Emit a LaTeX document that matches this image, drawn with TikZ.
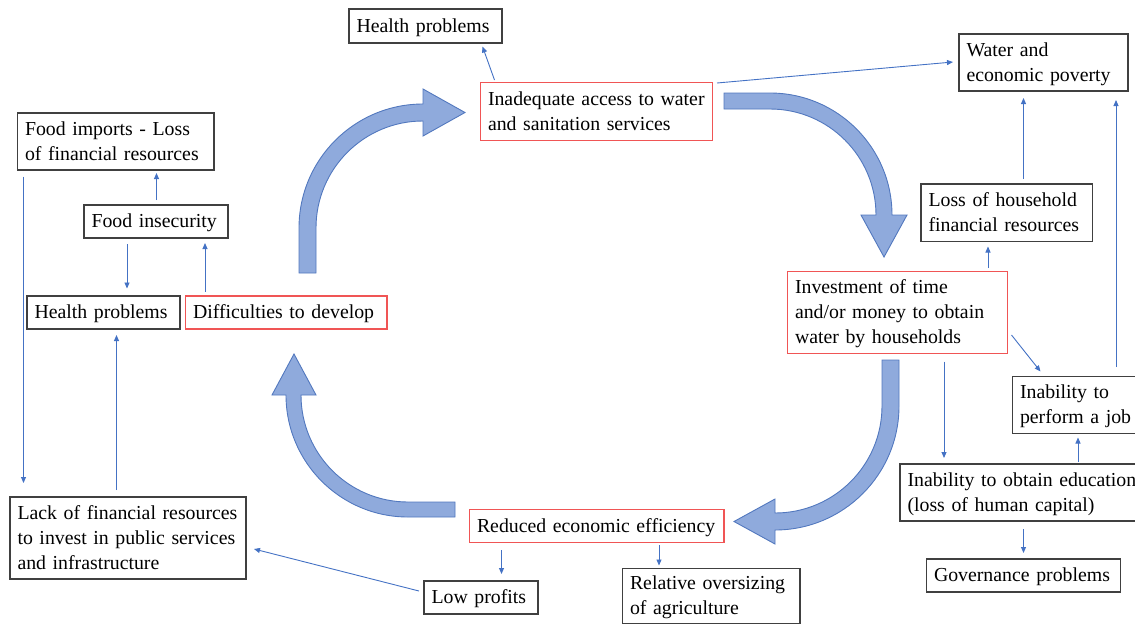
\documentclass[tikz,border=0pt]{standalone}
\usepackage{fontspec}
\setmainfont{Liberation Serif}
\usetikzlibrary{arrows.meta,calc}
\definecolor{boxgray}{RGB}{64,64,64}
\definecolor{boxred}{RGB}{240,85,85}
\definecolor{conn}{RGB}{68,114,196}
\definecolor{bigfill}{RGB}{143,170,220}
\definecolor{bigdraw}{RGB}{82,120,190}
\newcommand\topstrut{\leavevmode\vrule width 0pt height 18pt depth 0pt\relax}
\newcommand\botstrut{\vrule width 0pt height 0pt depth 5.4pt\relax}
\begin{document}
\hyphenpenalty=10000
\exhyphenpenalty=10000
\begin{tikzpicture}[x=1pt,y=-1pt,
 every node/.style={font=\fontsize{19.8}{25}\selectfont},
 box/.style={draw=boxgray,line width=1.2pt,inner xsep=7.5pt,inner ysep=0pt,outer sep=0pt,align=left,
   execute at begin node=\topstrut, execute at end node=\botstrut},
 redbox/.style={box,draw=boxred},
 link/.style={draw=conn,line width=0.9pt,-{Triangle[length=6pt,width=5pt]}},
 bigarrow/.style={fill=bigfill,draw=bigdraw,line width=0.9pt,line join=miter}]
\useasboundingbox (0,0) rectangle (1135,625);

% big cycle arrows
\draw[bigarrow] (299,273) -- (299,228) arc[start angle=180,end angle=270,radius=124]
  -- (423,89) -- (465,112.5) -- (423,136) -- (423,121)
  arc[start angle=270,end angle=180,radius=107] -- (316,273) -- cycle;
\draw[bigarrow] (724,93) -- (770,93) arc[start angle=270,end angle=360,radius=122]
  -- (907,215) -- (884,257) -- (861,215) -- (876,215)
  arc[start angle=360,end angle=270,radius=106] -- (724,109) -- cycle;
\draw[bigarrow] (899,360) -- (899,406) arc[start angle=0,end angle=90,radius=124]
  -- (775,544) -- (734,521.5) -- (775,499) -- (775,513)
  arc[start angle=90,end angle=0,radius=107] -- (882,360) -- cycle;
\draw[bigarrow] (455,517) -- (408,517) arc[start angle=90,end angle=180,radius=122]
  -- (272,395) -- (294,354) -- (316,395) -- (301,395)
  arc[start angle=180,end angle=90,radius=107] -- (455,502) -- cycle;

% boxes
\node[box,minimum width=153pt,minimum height=34pt,text width=138pt] (hpt) at (425.5,26) {Health problems};
\node[redbox,minimum width=232pt,minimum height=58pt,text width=217pt] (inad) at (596.5,111.5) {Inadequate access to water\\and sanitation services};
\node[box,minimum width=169pt,minimum height=57pt,text width=154pt] (wep) at (1043.5,62.5) {Water and\\economic poverty};
\node[box,minimum width=196.5pt,minimum height=57pt,text width=181.5pt] (fim) at (115.75,141.5) {Food imports - Loss\\of financial resources};
\node[box,minimum width=144pt,minimum height=33pt,text width=129pt] (fins) at (156,221.5) {Food insecurity};
\node[box,minimum width=153pt,minimum height=33pt,text width=138pt] (hpl) at (103.5,312.5) {Health problems};
\node[redbox,minimum width=201.5pt,minimum height=33pt,text width=186.5pt] (diff) at (286.25,312.5) {Difficulties to develop};
\node[box,minimum width=171.5pt,minimum height=57.5pt,text width=156.5pt] (lhf) at (1006.75,212.75) {Loss of household\\financial resources};
\node[redbox,minimum width=220pt,minimum height=82pt,text width=205pt] (inv) at (897.5,312.5) {Investment of time\\and/or money to obtain\\water by households};
\node[box,minimum width=129.5pt,minimum height=57pt,text width=114.5pt] (job) at (1077.25,405) {Inability to\\perform a job};
\node[box,minimum width=250pt,minimum height=57pt,text width=235pt] (edu) at (1025,492.5) {Inability to obtain education\\(loss of human capital)};
\node[box,minimum width=194pt,minimum height=33pt,text width=179pt] (gov) at (1023.5,575.5) {Governance problems};
\node[box,minimum width=236pt,minimum height=82pt,text width=221pt] (lack) at (128,538) {Lack of financial resources\\to invest in public services\\and infrastructure};
\node[redbox,minimum width=254.5pt,minimum height=33pt,text width=239.5pt] (red) at (596.75,526) {Reduced economic efficiency};
\node[box,minimum width=114pt,minimum height=33pt,text width=99pt] (low) at (481,597.5) {Low profits};
\node[box,minimum width=177.5pt,minimum height=55pt,text width=162.5pt] (rel) at (711.25,596) {Relative oversizing\\of agriculture};

% connectors
\draw[link] ($(inad.north west)+(14,-2.5)$) -- ($(hpt.south west)+(133.5,3.5)$);
\draw[link] ($(inad.north east)+(4.5,0.5)$) -- ($(wep.west)+(-6,-0.5)$);
\draw[link,shorten <=5pt,shorten >=7pt] ([xshift=16.75pt]lhf.north) -- ([xshift=-20pt]wep.south);
\draw[link,shorten <=9.5pt,shorten >=9pt] ([xshift=38.75pt]job.north) -- ([xshift=72.5pt]wep.south);
\draw[link,shorten <=3.5pt,shorten >=5pt] ([xshift=90.5pt]inv.north) -- ([xshift=-18.75pt]lhf.south);
\draw[link] ($(inv.east)+(4,22.5)$) -- ($(job.north west)+(28,-5)$);
\draw[link,shorten <=8pt,shorten >=6pt] ([xshift=46.5pt]inv.south) -- ([xshift=-81pt]edu.north);
\draw[link,shorten <=2.5pt,shorten >=4pt] ([xshift=53pt]edu.north) -- ([xshift=0.75pt]job.south);
\draw[link,shorten <=8pt,shorten >=6pt] ([xshift=-1.5pt]edu.south) -- ([xshift=0pt]gov.north);
\draw[link,shorten <=7.5pt,shorten >=7pt] ([xshift=-95.25pt]red.south) -- ([xshift=20.5pt]low.north);
\draw[link,shorten <=2.5pt,shorten >=3pt] ([xshift=62.25pt]red.south) -- ([xshift=-52.25pt]rel.north);
\draw[link] ($(low.west)+(-5,-6.5)$) -- ($(lack.east)+(8,11)$);
\draw[link,shorten <=7pt,shorten >=6pt] ([xshift=-11.5pt]lack.north) -- ([xshift=13pt]hpl.south);
\draw[link,shorten <=6.5pt,shorten >=14pt] ([xshift=-92.25pt]fim.south) -- ([xshift=-104.5pt]lack.north);
\draw[link,shorten <=6pt,shorten >=7.5pt] ([xshift=-29pt]fins.south) -- ([xshift=23.5pt]hpl.north);
\draw[link,shorten <=4.5pt,shorten >=5pt] ([xshift=-81.25pt]diff.north) -- ([xshift=49pt]fins.south);
\draw[link,shorten <=5pt,shorten >=3pt] ([xshift=0.5pt]fins.north) -- ([xshift=40.75pt]fim.south);
\end{tikzpicture}
\end{document}
